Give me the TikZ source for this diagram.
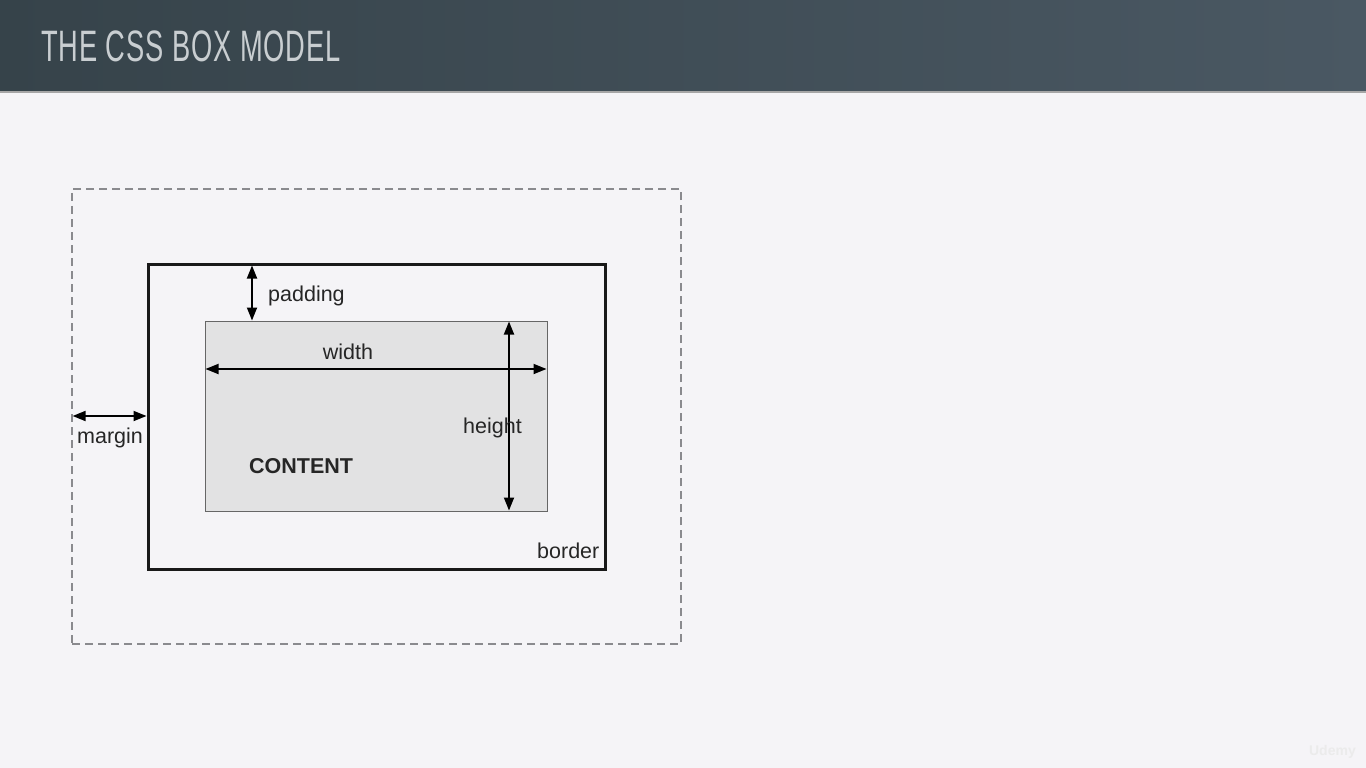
\documentclass[tikz,border=0pt]{standalone}
\usepackage{fontspec}
\setmainfont{Liberation Sans}
\newfontfamily\titlefont{Liberation Sans}[FakeStretch=0.62,LetterSpace=2]
\usetikzlibrary{arrows.meta}
\definecolor{pagebg}{HTML}{F5F4F7}
\definecolor{barleft}{HTML}{36434A}
\definecolor{barright}{HTML}{4A5863}
\definecolor{contentfill}{HTML}{E2E2E3}
\definecolor{dashgray}{HTML}{8A8A8E}
\definecolor{titlegray}{HTML}{C9CED1}
\tikzset{
  dimtip/.tip={Triangle[length=13pt,width=10pt]},
  dimarrow/.style={line width=1.8pt, dimtip-dimtip},
  lbl/.style={font=\fontsize{21.5}{24}\selectfont, inner sep=0pt, text=black!85},
  boxnode/.style={inner sep=0pt, outer sep=0pt}
}
\begin{document}
\begin{tikzpicture}[x=1pt,y=-1pt]
  % page and heading bar
  \fill[pagebg] (0,0) rectangle (1366,768);
  \useasboundingbox (0,0) rectangle (1366,768);
  \shade[left color=barleft, right color=barright] (0,0) rectangle (1366,91);
  \fill[black!35] (0,91) rectangle (1366,93);
  \node[anchor=west, inner sep=0pt, text=titlegray, font=\titlefont\fontsize{44}{44}\selectfont] (title) at (41,46) {THE CSS BOX MODEL};

  % margin, border and content boxes
  \node[boxnode, draw=dashgray, line width=1.2pt, dash pattern=on 8pt off 5pt,
        minimum width=609pt, minimum height=455pt] (mbox) at (376.5,416.5) {};
  \node[boxnode, draw=black!90, line width=3pt,
        minimum width=457pt, minimum height=305pt] (bbox) at (376.5,416.5) {};
  \node[boxnode, fill=contentfill, draw=black!60, line width=0.9pt,
        minimum width=342pt, minimum height=190pt] (cbox) at (376,416) {};

  % reference columns and rows for the dimension arrows
  \coordinate (padx) at (252,0);
  \coordinate (widy) at (0,369);
  \coordinate (heix) at (509,0);
  \coordinate (mary) at (0,416);

  % dimension arrows
  \draw[dimarrow] ([yshift=-1.5pt]bbox.north -| padx) -- ([yshift=0.5pt]cbox.north -| padx);
  \draw[dimarrow] ([xshift=0.5pt]cbox.west |- widy) -- ([xshift=-0.5pt]cbox.east |- widy);
  \draw[dimarrow] ([yshift=-0.5pt]cbox.north -| heix) -- ([yshift=0.5pt]cbox.south -| heix);
  \draw[dimarrow] ([xshift=0.6pt]mbox.west |- mary) -- ([xshift=-1.5pt]bbox.west |- mary);

  % labels
  \node[lbl, anchor=west] (padlbl) at (268,296) {padding};
  \node[lbl] (widlbl) at (348,352) {width};
  \node[lbl, anchor=west] (heilbl) at (463,428) {height};
  \node[lbl, anchor=west] (marlbl) at (77,438) {margin};
  \node[lbl, anchor=west] (borlbl) at (537,551) {border};
  \node[lbl, anchor=west, font=\bfseries\fontsize{21.5}{24}\selectfont] (conlbl) at (249,466) {CONTENT};

  % corner mark
  \node[anchor=east, inner sep=0pt, text=black!8, font=\bfseries\fontsize{14}{14}\selectfont] (mark) at (1356,752) {Udemy};
\end{tikzpicture}
\end{document}
